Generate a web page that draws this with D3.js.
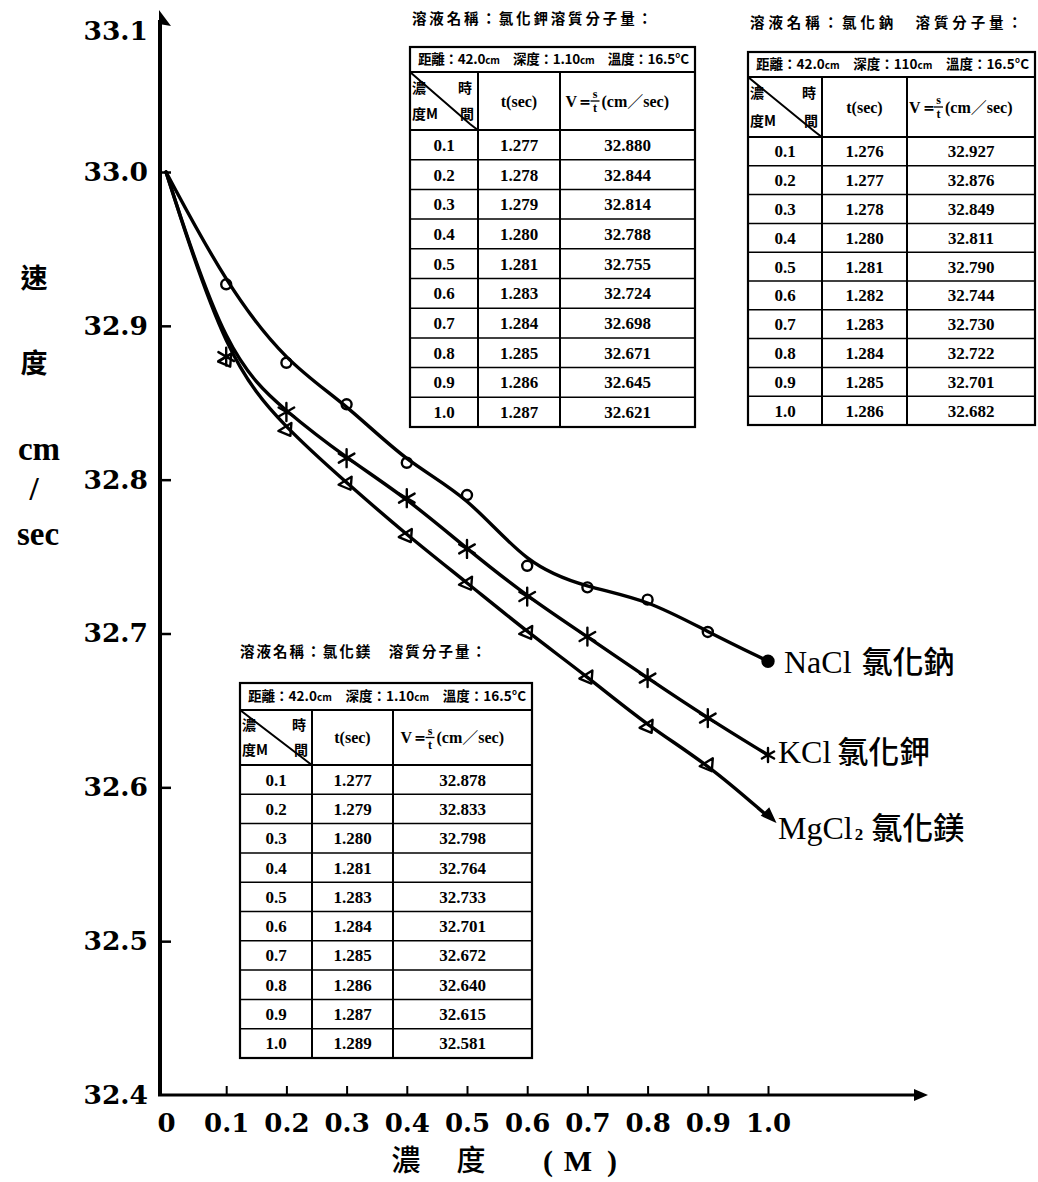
<!DOCTYPE html>
<html>
<head>
<meta charset="utf-8">
<script src="https://cdn.jsdelivr.net/npm/d3@7"></script>
<style>
  html, body { margin: 0; padding: 0; background: #fff; }
  svg { display: block; }
</style>
</head>
<body>
<svg id="chart" width="1038" height="1182"></svg>
<script>
// ---- data -------------------------------------------------------------
const concentrations = [0.1, 0.2, 0.3, 0.4, 0.5, 0.6, 0.7, 0.8, 0.9, 1.0];
const concLabels = ["0.1", "0.2", "0.3", "0.4", "0.5", "0.6", "0.7", "0.8", "0.9", "1.0"];
const startSpeed = 33.0;   // speed in pure water (0 M), where every curve begins

const naclTimes  = [1.276, 1.277, 1.278, 1.280, 1.281, 1.282, 1.283, 1.284, 1.285, 1.286];
const naclSpeeds = [32.927, 32.876, 32.849, 32.811, 32.790, 32.744, 32.730, 32.722, 32.701, 32.682];

const kclTimes   = [1.277, 1.278, 1.279, 1.280, 1.281, 1.283, 1.284, 1.285, 1.286, 1.287];
const kclSpeeds  = [32.880, 32.844, 32.814, 32.788, 32.755, 32.724, 32.698, 32.671, 32.645, 32.621];

const mgTimes    = [1.277, 1.279, 1.280, 1.281, 1.283, 1.284, 1.285, 1.286, 1.287, 1.289];
const mgSpeeds   = [32.878, 32.833, 32.798, 32.764, 32.733, 32.701, 32.672, 32.640, 32.615, 32.581];

const yTicks = [32.4, 32.5, 32.6, 32.7, 32.8, 32.9, 33.0, 33.1];
const yTickLabels = ["32.4", "32.5", "32.6", "32.7", "32.8", "32.9", "33.0", "33.1"];
const xTicks = [0, 0.1, 0.2, 0.3, 0.4, 0.5, 0.6, 0.7, 0.8, 0.9, 1.0];
const xTickLabels = ["0", "0.1", "0.2", "0.3", "0.4", "0.5", "0.6", "0.7", "0.8", "0.9", "1.0"];

const seriesFormulas = ["NaCl", "KCl", "MgCl"];
const seriesNames = ["氯化鈉", "氯化鉀", "氯化鎂"];

// ---- setup ------------------------------------------------------------
const CJK = "'Noto Sans CJK TC','Noto Sans CJK SC','Noto Sans CJK JP',sans-serif";
const SERIF = "'Liberation Serif','DejaVu Serif',serif";
const DSERIF = "'DejaVu Serif','Liberation Serif',serif";

const svg = d3.select("#chart");
svg.append("rect").attr("width", 1038).attr("height", 1182).attr("fill", "#fff");

const x = d3.scaleLinear().domain([0, 1]).range([166, 768]);
const y = d3.scaleLinear().domain([32.4, 33.0]).range([1095, 172]);
const axisX = 160;           // left position of the vertical axis
const axisY = y(32.4);       // baseline of the horizontal axis

// ---- axes -------------------------------------------------------------
const yAxisG = svg.append("g")
  .attr("transform", `translate(${axisX},0)`)
  .call(d3.axisLeft(y)
    .tickValues(yTicks)
    .tickFormat((d, i) => yTickLabels[i])
    .tickSizeInner(-11)
    .tickSizeOuter(0)
    .tickPadding(12));
yAxisG.select(".domain").remove();
yAxisG.selectAll(".tick line").attr("stroke", "#000").attr("stroke-width", 2.5)
  .filter(d => d === 32.4 || d === 33.1).remove();
yAxisG.selectAll(".tick text")
  .attr("font-family", DSERIF).attr("font-weight", 700).attr("font-size", 26.5)
  .attr("fill", "#000");
// the top label sits a little below its tick, beside the arrow head
yAxisG.selectAll(".tick").filter(d => d === 33.1).select("text").attr("y", 13);

const xAxisG = svg.append("g")
  .attr("transform", `translate(0,${axisY})`)
  .call(d3.axisBottom(x)
    .tickValues(xTicks)
    .tickFormat((d, i) => xTickLabels[i])
    .tickSizeInner(-9)
    .tickSizeOuter(0)
    .tickPadding(19));
xAxisG.select(".domain").remove();
xAxisG.selectAll(".tick line").attr("stroke", "#000").attr("stroke-width", 2)
  .filter(d => d === 0).remove();
xAxisG.selectAll(".tick text")
  .attr("font-family", DSERIF).attr("font-weight", 700).attr("font-size", 26)
  .attr("fill", "#000");

// axis lines with arrow heads
svg.append("line").attr("x1", axisX).attr("y1", axisY + 1).attr("x2", axisX).attr("y2", 20)
  .attr("stroke", "#000").attr("stroke-width", 4);
svg.append("path").attr("d", `M${axisX - 1},10 L${axisX + 11},26 L${axisX - 1},24 Z`).attr("fill", "#000");
svg.append("line").attr("x1", axisX - 2).attr("y1", axisY).attr("x2", 918).attr("y2", axisY)
  .attr("stroke", "#000").attr("stroke-width", 3);
svg.append("path").attr("d", `M928,${axisY} L914,${axisY - 6} L914,${axisY + 6} Z`).attr("fill", "#000");

// axis titles
const yTitle = svg.append("g");
[["速", 34, 278], ["度", 34, 363]].forEach(([t, tx, ty]) =>
  yTitle.append("text").attr("x", tx).attr("y", ty).attr("dy", "0.38em")
    .attr("text-anchor", "middle").attr("font-family", CJK).attr("font-weight", 700)
    .attr("font-size", 27).text(t));
[["cm", 39, 450], ["/", 34, 490], ["sec", 38, 535]].forEach(([t, tx, ty]) =>
  yTitle.append("text").attr("x", tx).attr("y", ty).attr("dy", "0.3em")
    .attr("text-anchor", "middle").attr("font-family", SERIF).attr("font-weight", 700)
    .attr("font-size", 33).text(t));

const xTitle = svg.append("g");
[["濃", 406], ["度", 471]].forEach(([t, tx]) =>
  xTitle.append("text").attr("x", tx).attr("y", 1160).attr("dy", "0.38em")
    .attr("text-anchor", "middle").attr("font-family", CJK).attr("font-weight", 500)
    .attr("font-size", 29).text(t));
[["(", 548], ["M", 578], [")", 612]].forEach(([t, tx]) =>
  xTitle.append("text").attr("x", tx).attr("y", 1160).attr("dy", "0.35em")
    .attr("text-anchor", "middle").attr("font-family", SERIF).attr("font-weight", 700)
    .attr("font-size", 30).text(t));

// ---- curves and markers -----------------------------------------------
function seriesPoints(speeds) {
  return [{c: 0, v: startSpeed}].concat(concentrations.map((c, i) => ({c, v: speeds[i]})));
}
// smooth fitted curve through the measured points
const line = d3.line().x(d => x(d.c)).y(d => y(d.v)).curve(d3.curveBasis);

const series = [
  {speeds: naclSpeeds, marker: "circle"},
  {speeds: kclSpeeds, marker: "star"},
  {speeds: mgSpeeds, marker: "triangle"}
];

const plot = svg.append("g");
series.forEach(s => {
  plot.append("path").datum(seriesPoints(s.speeds)).attr("d", line)
    .attr("fill", "none").attr("stroke", "#000").attr("stroke-width", 3.4)
    .attr("stroke-linecap", "round").attr("stroke-linejoin", "round");
});

function drawMarker(g, kind, cx, cy, last) {
  if (kind === "circle") {
    g.append("circle").attr("cx", cx).attr("cy", cy).attr("r", last ? 5.5 : 5)
      .attr("fill", last ? "#000" : "none").attr("stroke", "#000").attr("stroke-width", 2.4);
  } else if (kind === "star") {
    const r = last ? 7 : 9;
    const p = d3.path();
    [90, 30, 150].forEach(a => {
      const rad = a * Math.PI / 180;
      p.moveTo(cx - r * Math.cos(rad), cy - r * Math.sin(rad));
      p.lineTo(cx + r * Math.cos(rad), cy + r * Math.sin(rad));
    });
    g.append("path").attr("d", p.toString()).attr("fill", "none")
      .attr("stroke", "#000").attr("stroke-width", 2.4).attr("stroke-linecap", "round");
  } else {
    if (last) {
      g.append("path").attr("d", `M${cx + 7},${cy + 5} L${cx - 6},${cy - 1} L${cx + 1},${cy - 8} Z`)
        .attr("fill", "#000").attr("stroke", "#000").attr("stroke-width", 1.5);
    } else {
      g.append("path").attr("d", `M${cx - 8},${cy + 2} L${cx + 5},${cy - 6} L${cx + 4},${cy + 7} Z`)
        .attr("fill", "none").attr("stroke", "#000").attr("stroke-width", 2.4)
        .attr("stroke-linejoin", "round");
    }
  }
}

series.forEach(s => {
  s.speeds.forEach((v, i) => {
    drawMarker(plot, s.marker, x(concentrations[i]), y(v), i === s.speeds.length - 1);
  });
});

// ---- series labels ------------------------------------------------------
const labelOffsets = [[16, 12], [10, 8], [10, 22]];
series.forEach((s, k) => {
  const lastV = s.speeds[s.speeds.length - 1];
  const t = svg.append("text")
    .attr("x", x(1.0) + labelOffsets[k][0])
    .attr("y", y(lastV) + labelOffsets[k][1])
    .attr("fill", "#000");
  t.append("tspan").attr("font-family", SERIF).attr("font-size", 32).text(seriesFormulas[k]);
  if (k === 2) {
    t.append("tspan").attr("font-family", SERIF).attr("font-weight", 700)
      .attr("font-size", 17).attr("dx", 2).attr("dy", 1).text("2");
  }
  t.append("tspan").attr("font-family", CJK).attr("font-weight", 500)
    .attr("font-size", 31).attr("dx", k === 0 ? 10 : (k === 2 ? 8 : 6)).attr("dy", k === 2 ? -1 : 0)
    .text(seriesNames[k]);
});

// ---- data tables --------------------------------------------------------
function drawTable(cfg) {
  const g = svg.append("g");
  const [w1, w2, w3] = cfg.cols;
  const W = w1 + w2 + w3;
  const x0 = cfg.left, y0 = cfg.top;
  const yInfo = y0 + cfg.infoH;
  const yHead = yInfo + cfg.headH;
  const n = cfg.speeds.length;
  const yEnd = yHead + cfg.rowH * n;

  // title above the table
  g.append("text").attr("x", cfg.titleX).attr("y", cfg.titleY)
    .attr("font-family", CJK).attr("font-weight", 700).attr("font-size", 14.5)
    .attr("textLength", cfg.titleLen).attr("lengthAdjust", "spacing")
    .text(cfg.title);

  // frame and rules
  g.append("rect").attr("x", x0).attr("y", y0).attr("width", W).attr("height", yEnd - y0)
    .attr("fill", "none").attr("stroke", "#000").attr("stroke-width", 2.2);
  const hRules = [yInfo, yHead].concat(d3.range(1, n).map(i => yHead + i * cfg.rowH));
  g.selectAll(null).data(hRules).join("line")
    .attr("x1", x0).attr("x2", x0 + W).attr("y1", d => d).attr("y2", d => d)
    .attr("stroke", "#000").attr("stroke-width", (d, i) => i < 2 ? 2 : 1.5);
  g.selectAll(null).data([x0 + w1, x0 + w1 + w2]).join("line")
    .attr("x1", d => d).attr("x2", d => d).attr("y1", yInfo).attr("y2", yEnd)
    .attr("stroke", "#000").attr("stroke-width", 2);

  // measurement conditions row
  const info = g.append("text").attr("x", x0 + 8).attr("y", yInfo - cfg.infoH / 2).attr("dy", "0.36em")
    .attr("font-family", CJK).attr("font-weight", 700).attr("font-size", 13.5)
    .attr("textLength", W - 14).attr("lengthAdjust", "spacing");
  info.append("tspan").text("距離：42.0");
  info.append("tspan").attr("font-size", 10).text("cm");
  info.append("tspan").text("　深度：" + cfg.depth);
  info.append("tspan").attr("font-size", 10).text("cm");
  info.append("tspan").text("　溫度：16.5°C");

  // header row: split corner cell
  g.append("path")
    .attr("d", `M${x0},${yInfo} L${x0 + w1 - 8},${yHead - 6} Q${x0 + w1 - 3},${yHead - 2} ${x0 + w1},${yHead}`)
    .attr("fill", "none").attr("stroke", "#000").attr("stroke-width", 2);
  const hc = (t, tx, ty, anchor) => g.append("text").attr("x", tx).attr("y", ty).attr("dy", "0.36em")
    .attr("text-anchor", anchor).attr("font-family", CJK).attr("font-weight", 700)
    .attr("font-size", 14).text(t);
  hc("濃", x0 + 2, yInfo + cfg.headH * 0.27, "start");
  hc("時", x0 + w1 - 6, yInfo + cfg.headH * 0.27, "end");
  hc("度M", x0 + 2, yInfo + cfg.headH * 0.73, "start");
  hc("間", x0 + w1 - 4, yInfo + cfg.headH * 0.73, "end");

  const yMid = yInfo + cfg.headH / 2;
  g.append("text").attr("x", x0 + w1 + w2 / 2).attr("y", yMid).attr("dy", "0.35em")
    .attr("text-anchor", "middle").attr("font-family", SERIF).attr("font-weight", 700)
    .attr("font-size", 16).text("t(sec)");

  // V = s/t (cm/sec)
  const vx = x0 + w1 + w2 + (w3 - 124) / 2;
  g.append("text").attr("x", vx).attr("y", yMid).attr("dy", "0.35em")
    .attr("font-family", SERIF).attr("font-weight", 700).attr("font-size", 16).text("V＝");
  g.append("line").attr("x1", vx + 25).attr("x2", vx + 34).attr("y1", yMid).attr("y2", yMid)
    .attr("stroke", "#000").attr("stroke-width", 1.3);
  g.append("text").attr("x", vx + 29.5).attr("y", yMid - 3).attr("text-anchor", "middle")
    .attr("font-family", SERIF).attr("font-weight", 700).attr("font-size", 12).text("s");
  g.append("text").attr("x", vx + 29.5).attr("y", yMid + 11).attr("text-anchor", "middle")
    .attr("font-family", SERIF).attr("font-weight", 700).attr("font-size", 12).text("t");
  const unit = g.append("text").attr("x", vx + 36).attr("y", yMid).attr("dy", "0.35em")
    .attr("font-family", SERIF).attr("font-weight", 700).attr("font-size", 16);
  unit.append("tspan").text("(cm");
  unit.append("tspan").attr("font-family", CJK).attr("font-weight", 400).text("／");
  unit.append("tspan").text("sec)");

  // data rows
  const fmt = d3.format(".3f");
  const rows = g.selectAll(null).data(concentrations).join("g")
    .attr("transform", (d, i) => `translate(0,${yHead + (i + 0.5) * cfg.rowH})`);
  const cell = (sel, cx, fn) => sel.append("text").attr("x", cx).attr("dy", "0.35em")
    .attr("text-anchor", "middle").attr("font-family", SERIF).attr("font-weight", 700)
    .attr("font-size", 17).text(fn);
  cell(rows, x0 + w1 / 2, (d, i) => concLabels[i]);
  cell(rows, x0 + w1 + w2 / 2, (d, i) => fmt(cfg.times[i]));
  cell(rows, x0 + w1 + w2 + w3 / 2, (d, i) => fmt(cfg.speeds[i]));
}

drawTable({
  left: 410, top: 47, cols: [68, 82, 135], infoH: 25, headH: 58, rowH: 29.7,
  title: "溶液名稱：氯化鉀溶質分子量：", titleX: 412, titleY: 24, titleLen: 240,
  depth: "1.10", times: kclTimes, speeds: kclSpeeds
});
drawTable({
  left: 748, top: 52, cols: [74, 85, 128], infoH: 25, headH: 60, rowH: 28.8,
  title: "溶液名稱：氯化鈉　溶質分子量：", titleX: 750, titleY: 28, titleLen: 272,
  depth: "110", times: naclTimes, speeds: naclSpeeds
});
drawTable({
  left: 240, top: 683, cols: [72, 81, 139], infoH: 27, headH: 55, rowH: 29.3,
  title: "溶液名稱：氯化鎂　溶質分子量：", titleX: 240, titleY: 657, titleLen: 246,
  depth: "1.10", times: mgTimes, speeds: mgSpeeds
});
</script>
</body>
</html>
